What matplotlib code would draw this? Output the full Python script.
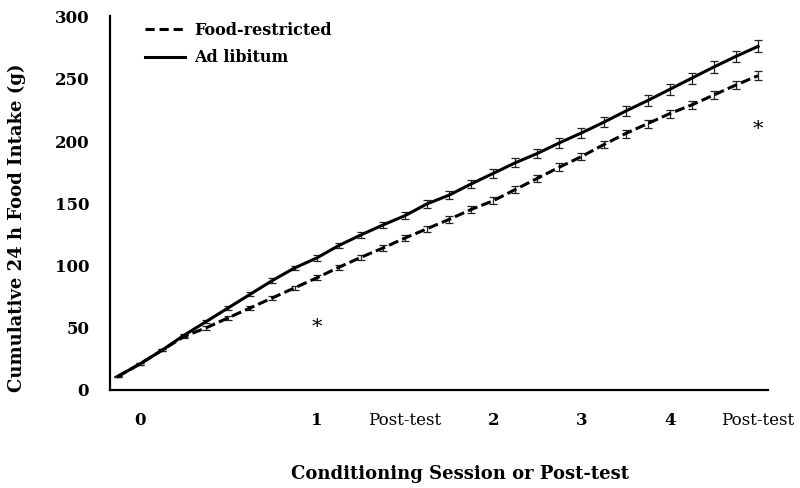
import numpy as np
import matplotlib
matplotlib.use("Agg")
import matplotlib.pyplot as plt
from matplotlib.lines import Line2D

# ---- data ----
sessions = list(range(30))
ad_libitum = [11, 21, 32, 44, 55, 66, 77, 88, 98, 106, 116, 124.5, 132.5, 140, 149.5,
              156.5, 165.5, 174, 182.5, 190, 198.5, 206.5, 215, 224, 232.5, 241.5,
              250.5, 259.5, 268, 276]
ad_libitum_sem = [0.5, 0.8, 1, 1.2, 1.5, 1.5, 1.8, 2, 2, 2.2, 2.3, 2.5, 2.5, 2.8, 3,
                  3, 3.2, 3.5, 3.5, 3.8, 4, 4, 4, 4.2, 4.2, 4.5, 4.5, 4.5, 4.5, 4.8]
food_restricted = [11, 21, 32, 43, 50, 58, 66, 74, 82, 90, 98.5, 106.5, 114, 122, 129.5,
                   137, 145, 152, 161, 170, 179, 187.5, 197, 206, 214, 222, 229, 237,
                   245, 252.5]
food_restricted_sem = [0.5, 0.8, 1, 1.2, 1.5, 1.5, 1.5, 1.8, 1.8, 2, 2, 2, 2.2, 2.2, 2.5,
                       2.5, 2.5, 2.8, 2.8, 3, 3, 3, 3, 3.2, 3.2, 3.2, 3.2, 3.3, 3.3, 3.5]
tick_positions = [1, 9, 13, 17, 21, 25, 29]
tick_labels = ["0", "1", "Post-test", "2", "3", "4", "Post-test"]
y_ticks = [0, 50, 100, 150, 200, 250, 300]
stars = [(9, 50), (29, 209)]

FONT = "DejaVu Serif"

fig = plt.figure(figsize=(8, 4.88), dpi=100)
ax = fig.add_axes([110/800, 1-390/488, (768-110)/800, (390-16.5)/488])

dash = (0, (3.3, 1.4))
ax.errorbar(sessions, food_restricted, yerr=food_restricted_sem, color="black",
            lw=2.2, linestyle=dash, ecolor="#222222", elinewidth=0.9, capsize=2.9,
            capthick=0.9, zorder=3)
ax.errorbar(sessions, ad_libitum, yerr=ad_libitum_sem, color="black",
            lw=2.2, linestyle="-", ecolor="#222222", elinewidth=0.9, capsize=2.9,
            capthick=0.9, zorder=3)

for sx, sy in stars:
    ax.text(sx, sy, "*", ha="center", va="center", fontsize=15,
            family=FONT, color="black")

ax.set_xlim(-0.36, 29.45)
ax.set_ylim(0, 300)
ax.set_yticks(y_ticks)
ax.set_yticklabels([str(v) for v in y_ticks], family=FONT, fontweight="bold",
                   fontsize=12)
ax.set_xticks(tick_positions)
ax.set_xticklabels(tick_labels, family=FONT, fontsize=12)
for lbl in ax.get_xticklabels():
    if lbl.get_text() != "Post-test":
        lbl.set_fontweight("bold")
ax.tick_params(axis="both", length=0)
ax.tick_params(axis="y", pad=15)
ax.tick_params(axis="x", pad=16)

for s in ["top", "right"]:
    ax.spines[s].set_visible(False)
for s in ["left", "bottom"]:
    ax.spines[s].set_linewidth(1.6)
    ax.spines[s].set_color("black")

handles = [Line2D([], [], color="black", lw=2.2, linestyle=(0, (3.0, 1.6))),
           Line2D([], [], color="black", lw=2.2, linestyle="-")]
fig.legend(handles, ["Food-restricted", "Ad libitum"], loc="upper left",
           bbox_to_anchor=(145/800, 1-22/488), frameon=False,
           prop={"family": FONT, "weight": "bold", "size": 11.5},
           handlelength=2.5, handletextpad=0.6, labelspacing=0.65,
           borderaxespad=0, borderpad=0)

fig.text(460/800, 1-474/488, "Conditioning Session or Post-test", ha="center",
         va="center", family=FONT, fontweight="bold", fontsize=13)
fig.text(17/800, 1-228/488, "Cumulative 24 h Food Intake (g)", ha="center",
         va="center", rotation=90, family=FONT, fontweight="bold", fontsize=13)

fig.savefig("out.png", dpi=100)
